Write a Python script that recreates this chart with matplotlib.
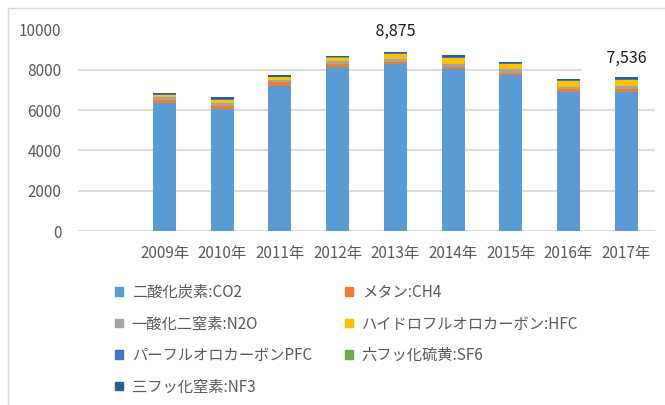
import numpy as np
import matplotlib.pyplot as plt
from matplotlib.patches import Patch, Rectangle

plt.rcParams['font.family'] = ['Noto Sans CJK JP', 'DejaVu Sans']

# data (empty first slot as in the original sheet)
years = ['', '2009年', '2010年', '2011年', '2012年', '2013年', '2014年', '2015年', '2016年', '2017年']
co2 = [0, 6353, 6073, 7195, 8135, 8290, 8027, 7761, 6915, 6915]
ch4 = [0, 165, 150, 200, 130, 115, 115, 85, 150, 150]
n2o = [0, 115, 130, 100, 150, 140, 165, 180, 65, 150]
hfc = [0, 130, 130, 130, 150, 240, 300, 280, 315, 265]
pfc = [0, 20, 45, 30, 40, 27, 40, 25, 30, 45]
sf6 = [0, 5, 15, 10, 13, 9, 13, 10, 10, 15]
nf3 = [0, 40, 90, 60, 77, 54, 77, 50, 60, 90]

names = ['二酸化炭素:CO2', 'メタン:CH4', '一酸化二窒素:N2O', 'ハイドロフルオロカーボン:HFC',
         'パーフルオロカーボンPFC', '六フッ化硫黄:SF6', '三フッ化窒素:NF3']
colors = ['#5B9BD5', '#ED7D31', '#A5A5A5', '#FFC000', '#4472C4', '#70AD47', '#255E91']
series = [co2, ch4, n2o, hfc, pfc, sf6, nf3]

fig = plt.figure(figsize=(6.65, 4.05), dpi=100)
ax = fig.add_axes([78/665, 1-231/405, 577/665, 201.5/405])

x = np.arange(len(years))
bottom = np.zeros(len(years))
for vals, c, n in zip(series, colors, names):
    ax.bar(x, vals, 0.4, bottom=bottom, color=c, label=n, zorder=3)
    bottom += np.array(vals)

ax.set_xlim(-0.5, len(years) - 0.5)
ax.set_ylim(0, 10000)
ax.set_yticks(np.arange(0, 10001, 2000))
ax.set_xticks(x)
ax.set_xticklabels(years)
ax.grid(axis='y', color='#D9D9D9', linewidth=1.3, zorder=0)
for s in ax.spines.values():
    s.set_visible(False)
ax.tick_params(length=0, colors='#595959', labelsize=11)
ax.tick_params(axis='y', pad=12)
ax.tick_params(axis='x', pad=10)

# callouts
ax.text(5, 9900, '    8,875    ', ha='center', va='center', fontsize=11.5, color='#1a1a1a',
        bbox=dict(boxstyle='square,pad=0.25', fc='white', ec='none'), zorder=4)
ax.text(9, 8550, '    7,536    ', ha='center', va='center', fontsize=11.5, color='#1a1a1a',
        bbox=dict(boxstyle='square,pad=0.6', fc='white', ec='none'), zorder=4, clip_on=False)

# legend, two columns placed separately
h = [Patch(color=c) for c in colors]
order1 = [0, 2, 4, 6]
order2 = [1, 3, 5]
kw = dict(loc='upper left', frameon=False, fontsize=11, handlelength=0.5, handleheight=0.5,
          handletextpad=0.6, labelspacing=0.95, labelcolor='#595959', borderpad=0, borderaxespad=0)
fig.legend([h[i] for i in order1], [names[i] for i in order1],
           bbox_to_anchor=(115/665, 1-284/405), **kw)
fig.legend([h[i] for i in order2], [names[i] for i in order2],
           bbox_to_anchor=(345/665, 1-284/405), **kw)

# chart frame
fig.patches.append(Rectangle((8/665, -0.2), 1.2, 1.2 - 8/405, transform=fig.transFigure,
                             fill=False, ec='#D9D9D9', lw=1))

fig.savefig('out.png', dpi=100)
